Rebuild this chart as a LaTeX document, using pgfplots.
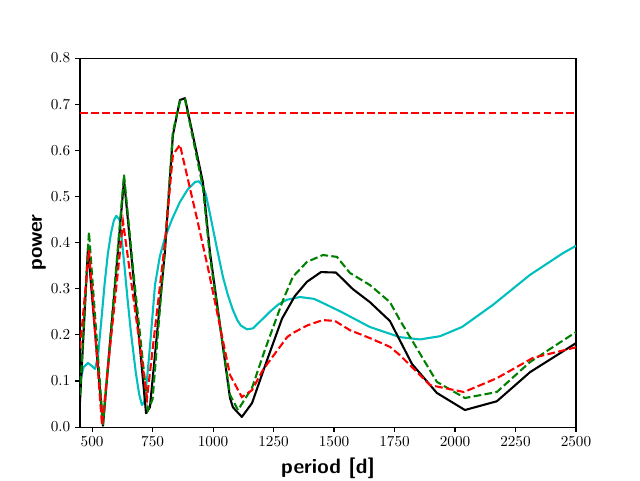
\documentclass[border=0pt]{standalone}
\usepackage{pgfplots}
\pgfplotsset{compat=1.18}
\definecolor{mplgreen}{rgb}{0,0.5,0}
\definecolor{mplcyan}{rgb}{0,0.75,0.75}
\begin{document}
\begin{tikzpicture}
\path[use as bounding box] (-57.6pt,-38.2pt) rectangle (403.2pt,307.5pt);
\begin{axis}[
  at={(0,0)}, anchor=south west,
  scale only axis, width=357.1pt, height=265.7pt,
  xmin=450, xmax=2500, ymin=0, ymax=0.8,
  xtick={500,750,1000,1250,1500,1750,2000,2250,2500},
  ytick={0,0.1,0.2,0.3,0.4,0.5,0.6,0.7,0.8},
  yticklabel style={/pgf/number format/.cd, fixed, fixed zerofill, precision=1},
  xticklabel style={/pgf/number format/1000 sep={}},
  scaled ticks=false,
  tick pos=left, tick align=outside,
  major tick length=3.5pt,
  every tick/.style={line width=0.8pt, black},
  axis line style={line width=0.8pt},
  ticklabel style={font=\fontsize{11}{13}\selectfont},
  xlabel={period [d]}, ylabel={power},
  every axis x label/.style={at={(axis description cs:0.5,-0.1246)}, anchor=base,
    font=\fontsize{15}{18}\selectfont\sffamily\bfseries},
  every axis y label/.style={at={(axis description cs:-0.0767,0.5)}, rotate=90, anchor=base,
    font=\fontsize{15}{18}\selectfont\sffamily\bfseries},
  clip=true,
]
\addplot[mplcyan, line width=1.5pt, line join=round] coordinates {
(450,0.100)(465,0.13)(483,0.139)(500,0.132)(512,0.126)(524,0.152)(538,0.23)(552,0.312)
(565,0.375)(578,0.42)(590,0.448)(600,0.458)(614,0.449)(624,0.40)(634,0.348)(647,0.275)
(661,0.203)(681,0.117)(695,0.07)(706,0.048)(716,0.055)(728,0.11)(740,0.18)(760,0.308)
(780,0.37)(801,0.41)(830,0.45)(863,0.488)(895,0.515)(925,0.531)(940,0.533)(954,0.526)
(970,0.505)(990,0.455)(1015,0.39)(1041,0.325)(1062,0.285)(1082,0.254)(1100,0.232)
(1115,0.220)(1140,0.212)(1165,0.214)(1200,0.232)(1235,0.250)(1270,0.266)(1305,0.276)
(1359,0.282)(1417,0.278)(1442,0.272)(1529,0.250)(1648,0.217)(1772,0.195)(1855,0.190)
(1938,0.197)(2029,0.217)(2157,0.265)(2310,0.330)(2446,0.377)(2500,0.393)
};
\addplot[black, line width=1.5pt, line join=round] coordinates {
(450,0.055)(483,0.388)(545,0.003)(632,0.536)(670,0.33)(723,0.030)(739,0.043)(801,0.38)
(834,0.633)(863,0.709)(884,0.713)(958,0.531)(987,0.38)(1070,0.063)(1082,0.043)(1119,0.022)
(1161,0.052)(1223,0.145)(1285,0.235)(1338,0.284)(1388,0.315)(1446,0.336)(1508,0.335)
(1578,0.299)(1648,0.271)(1731,0.230)(1822,0.137)(1925,0.074)(2041,0.037)(2173,0.056)
(2310,0.119)(2500,0.182)
};
\addplot[mplgreen, line width=1.5pt, dash pattern=on 5.55pt off 2.4pt] coordinates {
(450,0.07)(487,0.423)(545,0.005)(632,0.547)(670,0.34)(731,0.037)(750,0.06)(801,0.39)
(834,0.64)(863,0.706)(884,0.710)(958,0.52)(987,0.37)(1070,0.07)(1103,0.037)(1161,0.085)
(1214,0.167)(1289,0.275)(1330,0.326)(1388,0.358)(1454,0.373)(1512,0.369)(1566,0.334)
(1648,0.308)(1731,0.271)(1772,0.232)(1843,0.170)(1925,0.098)(2041,0.063)(2173,0.076)
(2310,0.141)(2500,0.206)
};
\addplot[red, line width=1.5pt, dash pattern=on 5.55pt off 2.4pt] coordinates {
(450,0.170)(487,0.384)(541,0.004)(628,0.445)(727,0.063)(801,0.40)(834,0.59)(863,0.612)
(933,0.453)(979,0.345)(1070,0.113)(1119,0.065)(1161,0.080)(1206,0.124)(1306,0.195)
(1330,0.204)(1392,0.221)(1454,0.232)(1504,0.230)(1566,0.210)(1648,0.193)(1731,0.174)
(1772,0.156)(1897,0.091)(2037,0.076)(2173,0.106)(2322,0.150)(2500,0.173)
};
\addplot[red, line width=1.5pt, dash pattern=on 5.55pt off 2.4pt] coordinates {(450,0.68)(2500,0.68)};
\end{axis}
\end{tikzpicture}
\end{document}
